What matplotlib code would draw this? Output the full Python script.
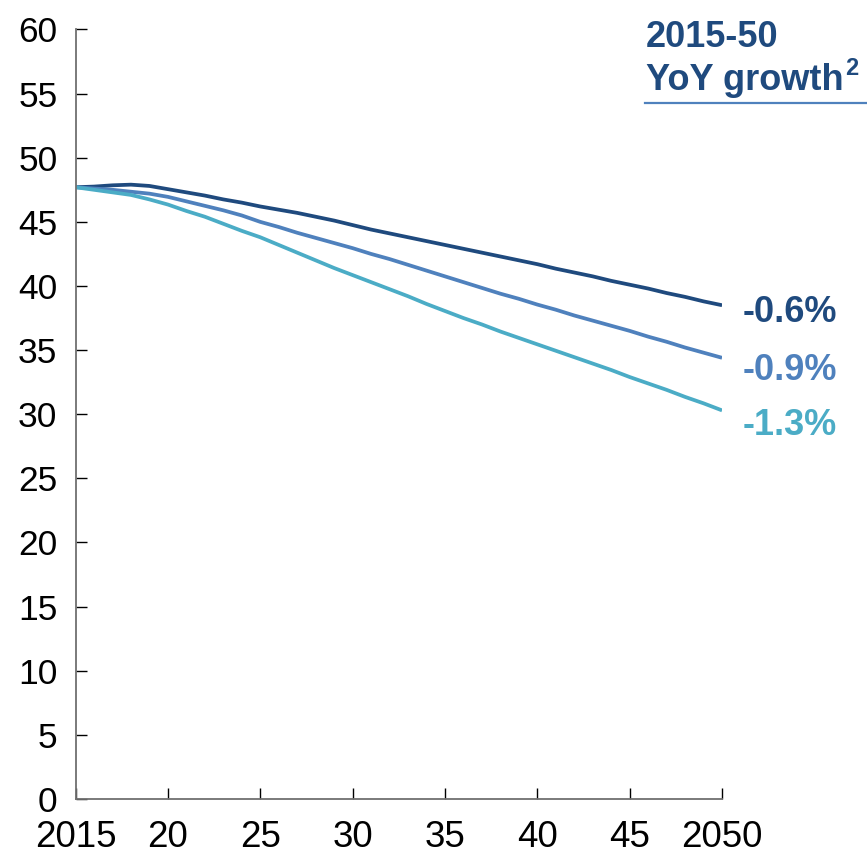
import numpy as np
import matplotlib.pyplot as plt
from matplotlib.lines import Line2D

plt.rcParams['font.family'] = ['Liberation Sans', 'DejaVu Sans']

years = np.arange(2015, 2051)

# three scenarios
high = [47.7, 47.75, 47.85, 47.9, 47.8, 47.55, 47.3, 47.05, 46.75, 46.5,
        46.2, 45.95, 45.7, 45.4, 45.1, 44.75, 44.4, 44.1, 43.8, 43.5,
        43.2, 42.9, 42.6, 42.3, 42.0, 41.7, 41.35, 41.05, 40.75, 40.4,
        40.1, 39.8, 39.45, 39.15, 38.8, 38.5]
mid = [47.7, 47.6, 47.5, 47.35, 47.2, 46.95, 46.6, 46.25, 45.9, 45.5,
       45.0, 44.6, 44.15, 43.75, 43.35, 42.95, 42.5, 42.1, 41.65, 41.2,
       40.75, 40.3, 39.85, 39.4, 39.0, 38.55, 38.15, 37.7, 37.3, 36.9,
       36.5, 36.05, 35.65, 35.2, 34.8, 34.4]
low = [47.7, 47.5, 47.3, 47.1, 46.75, 46.35, 45.85, 45.4, 44.85, 44.3,
       43.8, 43.2, 42.6, 42.0, 41.4, 40.85, 40.3, 39.75, 39.2, 38.6,
       38.05, 37.5, 37.0, 36.45, 35.95, 35.45, 34.95, 34.45, 33.95, 33.45,
       32.9, 32.4, 31.9, 31.35, 30.85, 30.3]

growth_labels = ['-0.6%', '-0.9%', '-1.3%']
colors = ['#1f4a7e', '#4f81bd', '#4bacc6']
label_offsets = [-5, -9, -11]

xticks = [2015, 2020, 2025, 2030, 2035, 2040, 2045, 2050]
xticklabels = ['2015', '20', '25', '30', '35', '40', '45', '2050']

fig = plt.figure(figsize=(8.67, 8.57), dpi=100)
ax = fig.add_axes([0.0871, 0.0677, 0.7457, 0.8979])

for series, c, lab, off in zip([high, mid, low], colors, growth_labels, label_offsets):
    ax.plot(years, series, color=c, linewidth=2.7, solid_capstyle='butt')
    ax.annotate(lab, xy=(years[-1], series[-1]), xytext=(15, off),
                textcoords='offset points', ha='left', va='center',
                fontsize=26, fontweight='bold', color=c, annotation_clip=False)

ax.set_xlim(2015, 2050)
ax.set_ylim(0, 60)
ax.set_xticks(xticks)
ax.set_xticklabels(xticklabels)
ax.set_yticks(np.arange(0, 61, 5))

ax.spines['top'].set_visible(False)
ax.spines['right'].set_visible(False)
for s in ['left', 'bottom']:
    ax.spines[s].set_color('#707070')
    ax.spines[s].set_linewidth(1.3)

ax.tick_params(axis='both', direction='in', length=8, width=1, color='black')
ax.tick_params(axis='y', pad=13, labelsize=25.5)
ax.tick_params(axis='x', pad=15, labelsize=26.5)

fig.text(0.745, 0.9455, '2015-50', fontsize=26, fontweight='bold',
         color='#1f4a7e', ha='left', va='baseline')
t2 = fig.text(0.745, 0.8945, 'YoY growth', fontsize=26, fontweight='bold',
              color='#1f4a7e', ha='left', va='baseline')
fig.canvas.draw()
bb = t2.get_window_extent(fig.canvas.get_renderer())
fig.text(bb.x1 / fig.bbox.width + 0.002, 0.9125, '2', fontsize=17,
         fontweight='bold', color='#1f4a7e', ha='left', va='baseline')
fig.add_artist(Line2D([0.744, 1.0], [0.8795, 0.8795], transform=fig.transFigure,
                      color='#4f81bd', linewidth=1.6))

fig.savefig('out.png', dpi=100)
